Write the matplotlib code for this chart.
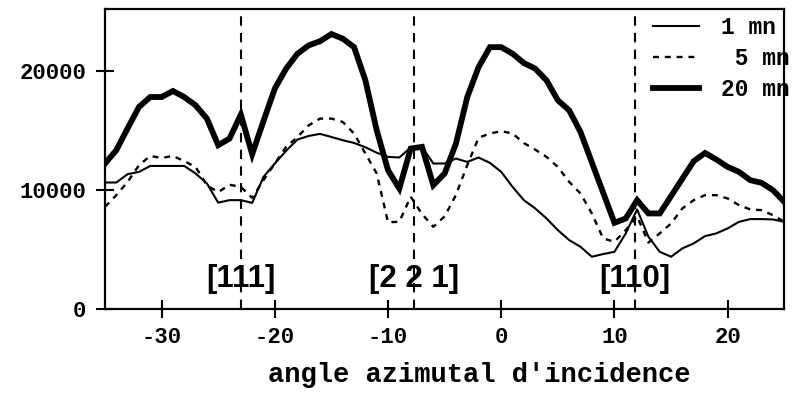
import matplotlib
matplotlib.use("Agg")
import matplotlib.pyplot as plt

angles = [-35, -34, -33, -32, -31, -30, -29, -28, -27, -26,
          -25, -24, -23, -22, -21, -20, -19, -18, -17, -16,
          -15, -14, -13, -12, -11, -10, -9, -8, -7, -6,
          -5, -4, -3, -2, -1, 0, 1, 2, 3, 4,
          5, 6, 7, 8, 9, 10, 11, 12, 13, 14,
          15, 16, 17, 18, 19, 20, 21, 22, 23, 24, 25]

mn1 = [10640, 10640, 11340, 11530, 12030, 12030, 12030, 12030, 11400, 10560,
       8950, 9160, 9160, 8930, 11110, 12235, 13300, 14245, 14550, 14720,
       14460, 14190, 13960, 13600, 13140, 12790, 12740, 13575, 13630, 12235,
       12235, 12650, 12370, 12740, 12285, 11530, 10275, 9160, 8465, 7625,
       6645, 5810, 5245, 4410, 4635, 4825, 6370, 8380, 6085, 4825,
       4410, 5110, 5530, 6140, 6370, 6790, 7340, 7570, 7570, 7540, 7340]

mn5 = [8600, 9580, 10690, 12090, 12870, 12700, 12870, 12430, 11950, 10415,
       9830, 10450, 10275, 9350, 10835, 12235, 13630, 14460, 15445, 16005,
       16005, 15720, 14750, 13070, 11400, 7300, 7350, 9450, 8000, 6920,
       7800, 9600, 12100, 14400, 14750, 14950, 14750, 13950, 13400, 12790,
       11950, 10690, 9720, 8045, 5950, 5665, 6645, 7800, 5600, 6370,
       7200, 8465, 9160, 9580, 9580, 9300, 8740, 8380, 8320, 7900, 7340]

mn20 = [12235, 13350, 15190, 16980, 17815, 17815, 18320, 17815, 17120, 16005,
        13770, 14330, 16340, 13015, 15800, 18520, 20200, 21450, 22150, 22500,
        23100, 22710, 22000, 19215, 15025, 11670, 10140, 13490, 13630, 10415,
        11400, 13910, 17815, 20330, 22000, 22000, 21450, 20665, 20200, 19215,
        17540, 16700, 14880, 12340, 9790, 7260, 7625, 9160, 8045, 8045,
        9500, 10970, 12430, 13120, 12570, 11950, 11530, 10835, 10610, 10000, 9015]

series_labels = ["1 mn", " 5 mn", "20 mn"]
directions = [-23, -7.7, 11.8]
direction_labels = ["[111]", "[2 2 1]", "[110]"]
xticks = [-30, -20, -10, 0, 10, 20]
yticks = [0, 10000, 20000]

mono = "Liberation Mono"

fig = plt.figure(figsize=(7.93, 3.97), dpi=100)
ax = fig.add_axes([0.1324, 0.2209, 0.8566, 0.7564])

ax.plot(angles, mn1, color="black", lw=1.5, label=series_labels[0])
ax.plot(angles, mn5, color="black", lw=1.7, linestyle=(0, (2.5, 2.5)), label=series_labels[1])
ax.plot(angles, mn20, color="black", lw=4.2, solid_joinstyle="miter", label=series_labels[2])

for d, lab in zip(directions, direction_labels):
    ax.axvline(d, color="black", lw=1.5, linestyle=(0, (4.5, 3.5)), zorder=1)
    ax.text(d, 1850, lab, ha="center", va="baseline", fontsize=22.5,
            fontweight="bold", family="Liberation Sans")

ax.set_xlim(-35, 25)
ax.set_ylim(0, 25200)
ax.set_xticks(xticks)
ax.set_yticks(yticks)
ax.set_xticklabels([str(t) for t in xticks])
ax.set_yticklabels([str(t) for t in yticks])
ax.tick_params(direction="inout", length=13, width=1.5)
ax.tick_params(axis="x", pad=6)
ax.tick_params(axis="y", pad=7)
for lab in ax.get_xticklabels() + ax.get_yticklabels():
    lab.set_family(mono)
    lab.set_fontweight("bold")
    lab.set_fontsize(16)
for s in ax.spines.values():
    s.set_linewidth(1.6)

leg = ax.legend(loc="upper left", bbox_to_anchor=(0.807, 0.978), frameon=False,
                prop={"family": mono, "weight": "bold", "size": 16.5},
                handlelength=2.0, handletextpad=0.95, labelspacing=0.36,
                borderpad=0, borderaxespad=0)
leg.set_zorder(2)

fig.text(0.604, 0.055, "angle azimutal d'incidence", ha="center", va="center",
         family=mono, fontweight="bold", fontsize=19.5)

fig.savefig("out.png", dpi=100)
